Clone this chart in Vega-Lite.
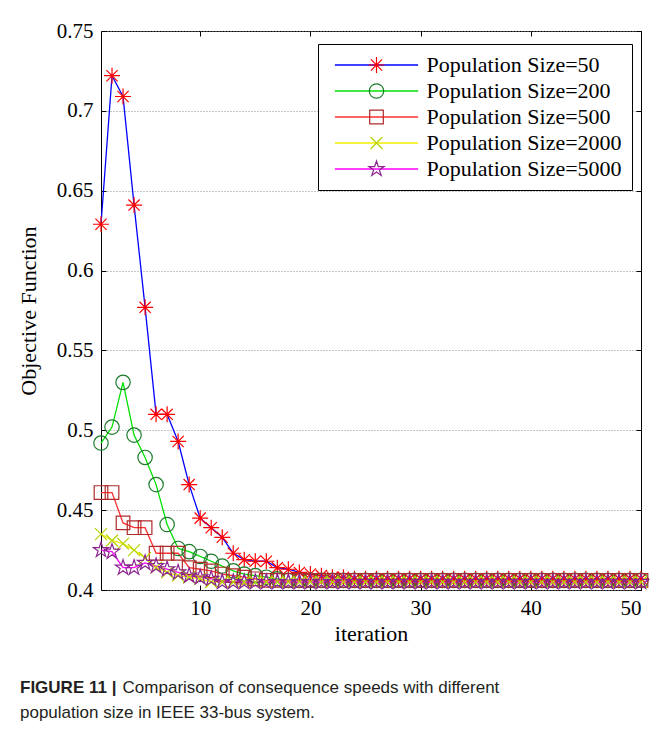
{
  "$schema": "https://vega.github.io/schema/vega-lite/v6.json",
  "width": 540,
  "height": 559,
  "autosize": {"type": "none"},
  "padding": {"left": 101, "top": 31, "right": 10, "bottom": 142},
  "background": "white",
  "config": {
    "view": {"stroke": "black", "strokeWidth": 1},
    "axis": {"labelFont": "Liberation Serif", "titleFont": "Liberation Serif", "labelColor": "black", "titleColor": "black", "tickColor": "black", "labelFontSize": 21, "titleFontSize": 22, "titleFontWeight": "normal", "domain": false}
  },
  "title": {
    "text": "FIGURE 11 |",
    "subtitle": ["\u200b\u00a0\u00a0\u00a0\u00a0\u00a0\u00a0\u00a0\u00a0\u00a0\u00a0\u00a0\u00a0\u00a0\u00a0\u00a0\u00a0\u00a0\u00a0\u00a0\u00a0\u00a0\u2009Comparison of consequence speeds with different", "population size in IEEE 33-bus system."],
    "orient": "bottom",
    "anchor": "start",
    "frame": "group",
    "dx": -81,
    "offset": 36,
    "font": "Liberation Sans",
    "fontSize": 17,
    "fontWeight": "bold",
    "color": "#231f20",
    "subtitleFont": "Liberation Sans",
    "subtitleFontSize": 17,
    "subtitleColor": "#231f20",
    "subtitlePadding": -17,
    "subtitleLineHeight": 25
  },
  "data": {"values": [
    {"p":50,"i":1,"v":0.629},{"p":50,"i":2,"v":0.722},{"p":50,"i":3,"v":0.709},{"p":50,"i":4,"v":0.641},{"p":50,"i":5,"v":0.577},{"p":50,"i":6,"v":0.51},{"p":50,"i":7,"v":0.51},{"p":50,"i":8,"v":0.493},{"p":50,"i":9,"v":0.466},{"p":50,"i":10,"v":0.445},
    {"p":50,"i":11,"v":0.439},{"p":50,"i":12,"v":0.433},{"p":50,"i":13,"v":0.423},{"p":50,"i":14,"v":0.419},{"p":50,"i":15,"v":0.418},{"p":50,"i":16,"v":0.418},{"p":50,"i":17,"v":0.414},{"p":50,"i":18,"v":0.413},{"p":50,"i":19,"v":0.411},{"p":50,"i":20,"v":0.41},
    {"p":50,"i":21,"v":0.409},{"p":50,"i":22,"v":0.408},{"p":50,"i":23,"v":0.408},{"p":50,"i":24,"v":0.407},{"p":50,"i":25,"v":0.407},{"p":50,"i":26,"v":0.407},{"p":50,"i":27,"v":0.407},{"p":50,"i":28,"v":0.407},{"p":50,"i":29,"v":0.407},{"p":50,"i":30,"v":0.407},
    {"p":50,"i":31,"v":0.407},{"p":50,"i":32,"v":0.407},{"p":50,"i":33,"v":0.407},{"p":50,"i":34,"v":0.407},{"p":50,"i":35,"v":0.407},{"p":50,"i":36,"v":0.407},{"p":50,"i":37,"v":0.407},{"p":50,"i":38,"v":0.407},{"p":50,"i":39,"v":0.407},{"p":50,"i":40,"v":0.407},
    {"p":50,"i":41,"v":0.407},{"p":50,"i":42,"v":0.407},{"p":50,"i":43,"v":0.407},{"p":50,"i":44,"v":0.407},{"p":50,"i":45,"v":0.407},{"p":50,"i":46,"v":0.407},{"p":50,"i":47,"v":0.407},{"p":50,"i":48,"v":0.407},{"p":50,"i":49,"v":0.407},{"p":50,"i":50,"v":0.407},
    {"p":200,"i":1,"v":0.492},{"p":200,"i":2,"v":0.502},{"p":200,"i":3,"v":0.53},{"p":200,"i":4,"v":0.497},{"p":200,"i":5,"v":0.483},{"p":200,"i":6,"v":0.466},{"p":200,"i":7,"v":0.441},{"p":200,"i":8,"v":0.426},{"p":200,"i":9,"v":0.424},{"p":200,"i":10,"v":0.421},
    {"p":200,"i":11,"v":0.418},{"p":200,"i":12,"v":0.415},{"p":200,"i":13,"v":0.412},{"p":200,"i":14,"v":0.41},{"p":200,"i":15,"v":0.409},{"p":200,"i":16,"v":0.408},{"p":200,"i":17,"v":0.407},{"p":200,"i":18,"v":0.406},{"p":200,"i":19,"v":0.406},{"p":200,"i":20,"v":0.406},
    {"p":200,"i":21,"v":0.406},{"p":200,"i":22,"v":0.406},{"p":200,"i":23,"v":0.406},{"p":200,"i":24,"v":0.406},{"p":200,"i":25,"v":0.406},{"p":200,"i":26,"v":0.406},{"p":200,"i":27,"v":0.406},{"p":200,"i":28,"v":0.406},{"p":200,"i":29,"v":0.406},{"p":200,"i":30,"v":0.406},
    {"p":200,"i":31,"v":0.406},{"p":200,"i":32,"v":0.406},{"p":200,"i":33,"v":0.406},{"p":200,"i":34,"v":0.406},{"p":200,"i":35,"v":0.406},{"p":200,"i":36,"v":0.406},{"p":200,"i":37,"v":0.406},{"p":200,"i":38,"v":0.406},{"p":200,"i":39,"v":0.406},{"p":200,"i":40,"v":0.406},
    {"p":200,"i":41,"v":0.406},{"p":200,"i":42,"v":0.406},{"p":200,"i":43,"v":0.406},{"p":200,"i":44,"v":0.406},{"p":200,"i":45,"v":0.406},{"p":200,"i":46,"v":0.406},{"p":200,"i":47,"v":0.406},{"p":200,"i":48,"v":0.406},{"p":200,"i":49,"v":0.406},{"p":200,"i":50,"v":0.406},
    {"p":500,"i":1,"v":0.461},{"p":500,"i":2,"v":0.461},{"p":500,"i":3,"v":0.442},{"p":500,"i":4,"v":0.439},{"p":500,"i":5,"v":0.439},{"p":500,"i":6,"v":0.423},{"p":500,"i":7,"v":0.423},{"p":500,"i":8,"v":0.423},{"p":500,"i":9,"v":0.414},{"p":500,"i":10,"v":0.413},
    {"p":500,"i":11,"v":0.412},{"p":500,"i":12,"v":0.41},{"p":500,"i":13,"v":0.409},{"p":500,"i":14,"v":0.408},{"p":500,"i":15,"v":0.407},{"p":500,"i":16,"v":0.406},{"p":500,"i":17,"v":0.406},{"p":500,"i":18,"v":0.406},{"p":500,"i":19,"v":0.406},{"p":500,"i":20,"v":0.406},
    {"p":500,"i":21,"v":0.406},{"p":500,"i":22,"v":0.406},{"p":500,"i":23,"v":0.406},{"p":500,"i":24,"v":0.406},{"p":500,"i":25,"v":0.406},{"p":500,"i":26,"v":0.406},{"p":500,"i":27,"v":0.406},{"p":500,"i":28,"v":0.406},{"p":500,"i":29,"v":0.406},{"p":500,"i":30,"v":0.406},
    {"p":500,"i":31,"v":0.406},{"p":500,"i":32,"v":0.406},{"p":500,"i":33,"v":0.406},{"p":500,"i":34,"v":0.406},{"p":500,"i":35,"v":0.406},{"p":500,"i":36,"v":0.406},{"p":500,"i":37,"v":0.406},{"p":500,"i":38,"v":0.406},{"p":500,"i":39,"v":0.406},{"p":500,"i":40,"v":0.406},
    {"p":500,"i":41,"v":0.406},{"p":500,"i":42,"v":0.406},{"p":500,"i":43,"v":0.406},{"p":500,"i":44,"v":0.406},{"p":500,"i":45,"v":0.406},{"p":500,"i":46,"v":0.406},{"p":500,"i":47,"v":0.406},{"p":500,"i":48,"v":0.406},{"p":500,"i":49,"v":0.406},{"p":500,"i":50,"v":0.406},
    {"p":2000,"i":1,"v":0.435},{"p":2000,"i":2,"v":0.431},{"p":2000,"i":3,"v":0.429},{"p":2000,"i":4,"v":0.425},{"p":2000,"i":5,"v":0.42},{"p":2000,"i":6,"v":0.414},{"p":2000,"i":7,"v":0.411},{"p":2000,"i":8,"v":0.409},{"p":2000,"i":9,"v":0.408},{"p":2000,"i":10,"v":0.407},
    {"p":2000,"i":11,"v":0.405},{"p":2000,"i":12,"v":0.405},{"p":2000,"i":13,"v":0.405},{"p":2000,"i":14,"v":0.405},{"p":2000,"i":15,"v":0.405},{"p":2000,"i":16,"v":0.405},{"p":2000,"i":17,"v":0.405},{"p":2000,"i":18,"v":0.405},{"p":2000,"i":19,"v":0.405},{"p":2000,"i":20,"v":0.405},
    {"p":2000,"i":21,"v":0.405},{"p":2000,"i":22,"v":0.405},{"p":2000,"i":23,"v":0.405},{"p":2000,"i":24,"v":0.405},{"p":2000,"i":25,"v":0.405},{"p":2000,"i":26,"v":0.405},{"p":2000,"i":27,"v":0.405},{"p":2000,"i":28,"v":0.405},{"p":2000,"i":29,"v":0.405},{"p":2000,"i":30,"v":0.405},
    {"p":2000,"i":31,"v":0.405},{"p":2000,"i":32,"v":0.405},{"p":2000,"i":33,"v":0.405},{"p":2000,"i":34,"v":0.405},{"p":2000,"i":35,"v":0.405},{"p":2000,"i":36,"v":0.405},{"p":2000,"i":37,"v":0.405},{"p":2000,"i":38,"v":0.405},{"p":2000,"i":39,"v":0.405},{"p":2000,"i":40,"v":0.405},
    {"p":2000,"i":41,"v":0.405},{"p":2000,"i":42,"v":0.405},{"p":2000,"i":43,"v":0.405},{"p":2000,"i":44,"v":0.405},{"p":2000,"i":45,"v":0.405},{"p":2000,"i":46,"v":0.405},{"p":2000,"i":47,"v":0.405},{"p":2000,"i":48,"v":0.405},{"p":2000,"i":49,"v":0.405},{"p":2000,"i":50,"v":0.405},
    {"p":5000,"i":1,"v":0.425},{"p":5000,"i":2,"v":0.424},{"p":5000,"i":3,"v":0.414},{"p":5000,"i":4,"v":0.414},{"p":5000,"i":5,"v":0.417},{"p":5000,"i":6,"v":0.415},{"p":5000,"i":7,"v":0.413},{"p":5000,"i":8,"v":0.411},{"p":5000,"i":9,"v":0.409},{"p":5000,"i":10,"v":0.408},
    {"p":5000,"i":11,"v":0.407},{"p":5000,"i":12,"v":0.405},{"p":5000,"i":13,"v":0.405},{"p":5000,"i":14,"v":0.405},{"p":5000,"i":15,"v":0.405},{"p":5000,"i":16,"v":0.405},{"p":5000,"i":17,"v":0.405},{"p":5000,"i":18,"v":0.405},{"p":5000,"i":19,"v":0.405},{"p":5000,"i":20,"v":0.405},
    {"p":5000,"i":21,"v":0.405},{"p":5000,"i":22,"v":0.405},{"p":5000,"i":23,"v":0.405},{"p":5000,"i":24,"v":0.405},{"p":5000,"i":25,"v":0.405},{"p":5000,"i":26,"v":0.405},{"p":5000,"i":27,"v":0.405},{"p":5000,"i":28,"v":0.405},{"p":5000,"i":29,"v":0.405},{"p":5000,"i":30,"v":0.405},
    {"p":5000,"i":31,"v":0.405},{"p":5000,"i":32,"v":0.405},{"p":5000,"i":33,"v":0.405},{"p":5000,"i":34,"v":0.405},{"p":5000,"i":35,"v":0.405},{"p":5000,"i":36,"v":0.405},{"p":5000,"i":37,"v":0.405},{"p":5000,"i":38,"v":0.405},{"p":5000,"i":39,"v":0.405},{"p":5000,"i":40,"v":0.405},
    {"p":5000,"i":41,"v":0.405},{"p":5000,"i":42,"v":0.405},{"p":5000,"i":43,"v":0.405},{"p":5000,"i":44,"v":0.405},{"p":5000,"i":45,"v":0.405},{"p":5000,"i":46,"v":0.405},{"p":5000,"i":47,"v":0.405},{"p":5000,"i":48,"v":0.405},{"p":5000,"i":49,"v":0.405},{"p":5000,"i":50,"v":0.405}
  ]},
  "layer": [
    {
      "mark": {"type": "line", "strokeWidth": 1.3},
      "encoding": {
        "x": {"field": "i", "type": "quantitative", "scale": {"domain": [1, 50], "nice": false, "zero": false},
              "axis": {"orient": "bottom", "values": [10, 20, 30, 40, 50], "grid": false, "tickSize": -5, "labelPadding": 12, "title": "iteration", "titlePadding": 5}},
        "y": {"field": "v", "type": "quantitative", "scale": {"domain": [0.4, 0.75], "nice": false, "zero": false},
              "axis": {"orient": "left", "values": [0.4, 0.45, 0.5, 0.55, 0.6, 0.65, 0.7, 0.75], "format": ".2~f", "grid": true, "gridColor": "#8c8c8c", "gridDash": [1, 2], "tickSize": -5, "labelPadding": 13, "title": "Objective Function", "titlePadding": 16}},
        "stroke": {"field": "p", "type": "ordinal",
                   "scale": {"range": ["#0000ff", "#00e000", "#ff3030", "#f0f000", "#ff00ff"]},
                   "legend": {"orient": "none", "legendX": 217, "legendY": 13, "title": null,
                              "symbolType": "M-5.2,0L5.2,0", "symbolSize": 256, "symbolStrokeWidth": 1.5,
                              "labelExpr": "'Population Size=' + datum.label", "labelFont": "Liberation Serif", "labelFontSize": 22, "labelLimit": 400, "labelColor": "black", "labelOpacity": 0,
                              "labelOffset": 39, "symbolOffset": 37.5, "padding": 10, "rowPadding": 4,
                              "fillColor": "white", "strokeColor": "black"}}
      }
    },
    {
      "mark": {"type": "point", "filled": false, "size": 256, "strokeWidth": 1.2, "opacity": 1},
      "encoding": {
        "x": {"field": "i", "type": "quantitative",
              "axis": {"orient": "top", "values": [10, 20, 30, 40, 50], "labels": false, "grid": false, "tickSize": -5, "title": null}},
        "y": {"field": "v", "type": "quantitative",
              "axis": {"orient": "right", "values": [0.4, 0.45, 0.5, 0.55, 0.6, 0.65, 0.7, 0.75], "labels": false, "grid": false, "tickSize": -5, "title": null}},
        "stroke": {"field": "p", "type": "ordinal",
                   "scale": {"range": ["#ff0000", "#1a7a2a", "#b02a2a", "#b4d200", "#8c2490"]},
                   "legend": {"orient": "none", "legendX": 217, "legendY": 13, "title": null,
                              "symbolSize": 256, "symbolStrokeWidth": 1.2,
                              "labelExpr": "'Population Size=' + datum.label", "labelFont": "Liberation Serif", "labelFontSize": 22, "labelLimit": 400, "labelColor": "black",
                              "labelOffset": 39, "symbolOffset": 37.5, "padding": 10, "rowPadding": 4}},
        "shape": {"field": "p", "type": "ordinal",
                  "scale": {"range": [
                    "M-1,0L1,0M0,-1L0,1M-0.7,-0.7L0.7,0.7M-0.7,0.7L0.7,-0.7",
                    "M0.9,0A0.9,0.9,0,1,1,-0.9,0A0.9,0.9,0,1,1,0.9,0Z",
                    "M-0.85,-0.85L0.85,-0.85L0.85,0.85L-0.85,0.85Z",
                    "M-0.75,-0.75L0.75,0.75M-0.75,0.75L0.75,-0.75",
                    "M0,-1L0.2245,-0.309L0.951,-0.309L0.363,0.118L0.588,0.809L0,0.382L-0.588,0.809L-0.363,0.118L-0.951,-0.309L-0.2245,-0.309Z"
                  ]},
                  "legend": {"orient": "none", "legendX": 217, "legendY": 13, "title": null,
                             "symbolSize": 256, "symbolStrokeWidth": 1.2,
                             "labelExpr": "'Population Size=' + datum.label", "labelFont": "Liberation Serif", "labelFontSize": 22, "labelLimit": 400, "labelColor": "black",
                             "labelOffset": 39, "symbolOffset": 37.5, "padding": 10, "rowPadding": 4}}
      }
    }
  ],
  "resolve": {"scale": {"stroke": "independent", "shape": "independent"}, "axis": {"x": "independent", "y": "independent"}}
}
